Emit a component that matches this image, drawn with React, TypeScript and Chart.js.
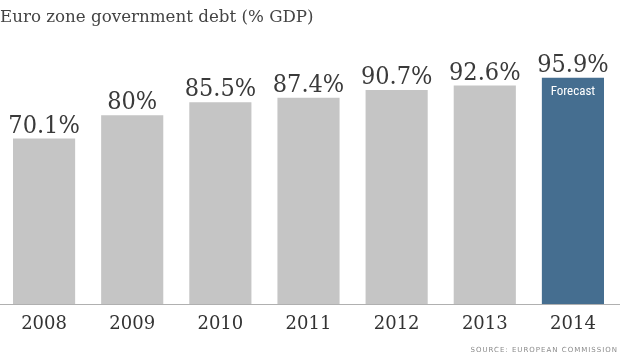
import React, { useEffect, useRef } from "react";
import { Chart, registerables } from "chart.js";

Chart.register(...registerables);

const years = ["2008", "2009", "2010", "2011", "2012", "2013", "2014"];
const debtPct = [70.1, 80, 85.5, 87.4, 90.7, 92.6, 95.9];
const valueLabels = ["70.1%", "80%", "85.5%", "87.4%", "90.7%", "92.6%", "95.9%"];
const forecastIndex = 6;
const titleText = "Euro zone government debt (% GDP)";
const sourceText = "SOURCE: EUROPEAN COMMISSION";

const GRAY = "#c5c5c5";
const BLUE = "#456e90";

const labelPlugin = {
  id: "customLabels",
  afterDatasetsDraw(chart: any) {
    const ctx = chart.ctx;
    const meta = chart.getDatasetMeta(0);
    const area = chart.chartArea;
    ctx.save();
    // baseline axis line
    ctx.strokeStyle = "#b0b0b0";
    ctx.lineWidth = 1;
    ctx.beginPath();
    ctx.moveTo(0, Math.round(area.bottom) + 0.5);
    ctx.lineTo(chart.width, Math.round(area.bottom) + 0.5);
    ctx.stroke();
    // value labels
    ctx.fillStyle = "#3a3a3a";
    ctx.font = "25px 'DejaVu Serif Condensed', 'DejaVu Serif', serif";
    ctx.textAlign = "center";
    ctx.textBaseline = "alphabetic";
    meta.data.forEach((bar: any, i: number) => {
      ctx.fillText(valueLabels[i], bar.x, bar.y - 6);
    });
    // forecast text
    const fb = meta.data[forecastIndex];
    ctx.fillStyle = "#ffffff";
    ctx.font = "13px 'Liberation Sans Narrow', 'Arial Narrow', 'Roboto Condensed', sans-serif";
    ctx.textBaseline = "middle";
    ctx.fillText("Forecast", fb.x, fb.y + 14);
    // source
    ctx.fillStyle = "#8a8a8a";
    ctx.font = "7px 'DejaVu Sans', sans-serif";
    (ctx as any).letterSpacing = "1px";
    ctx.textAlign = "right";
    ctx.textBaseline = "alphabetic";
    ctx.fillText(sourceText, 618, 352);
    ctx.restore();
  },
};

export default function App() {
  const ref = useRef<HTMLCanvasElement>(null);
  useEffect(() => {
    if (!ref.current) return;
    const chart = new Chart(ref.current, {
      type: "bar",
      data: {
        labels: years,
        datasets: [
          {
            data: debtPct,
            backgroundColor: debtPct.map((_, i) => (i === forecastIndex ? BLUE : GRAY)),
            borderWidth: 0,
            categoryPercentage: 1,
            barPercentage: 0.705,
          },
        ],
      },
      options: {
        responsive: false,
        animation: false,
        layout: { padding: { left: 0, right: 3, top: 0, bottom: 0 } },
        plugins: {
          legend: { display: false },
          tooltip: { enabled: false },
          title: {
            display: true,
            text: titleText,
            align: "start",
            color: "#444444",
            font: { family: "'DejaVu Serif', serif", size: 16.7, weight: "normal", lineHeight: 1.2 },
            padding: { top: 8, bottom: 40 },
          },
        },
        scales: {
          x: {
            grid: { display: false, drawTicks: false },
            border: { display: false },
            ticks: {
              color: "#333333",
              font: { family: "'DejaVu Serif', serif", size: 18 },
              padding: 10,
            },
            afterFit: (s: any) => {
              s.height = 51;
            },
          },
          y: {
            display: false,
            min: 0,
            max: 100,
          },
        },
      },
      plugins: [labelPlugin],
    });
    return () => chart.destroy();
  }, []);
  return (
    <div style={{ position: "fixed", left: 0, top: 0, width: 620, height: 355, background: "#fff" }}>
      <canvas ref={ref} width={620} height={355} />
    </div>
  );
}
